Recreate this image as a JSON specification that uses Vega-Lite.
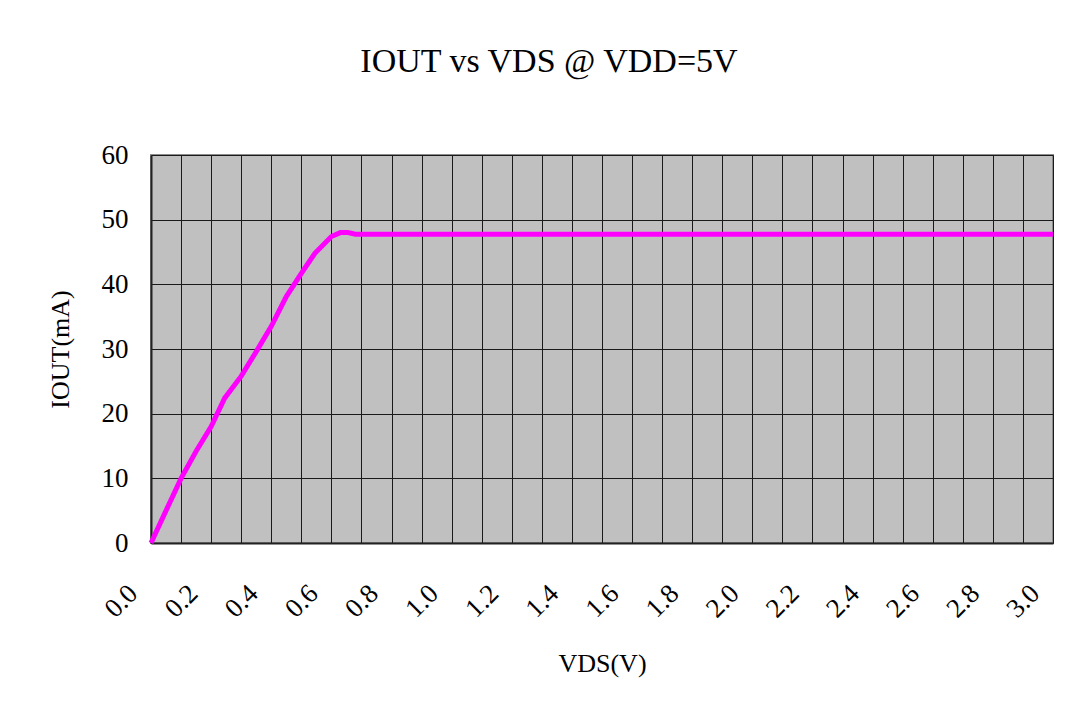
{
  "$schema": "https://vega.github.io/schema/vega-lite/v6.json",
  "width": 902,
  "height": 388,
  "autosize": {"type": "none"},
  "padding": {"left": 151, "top": 155, "right": 30, "bottom": 161},
  "background": "white",
  "title": {
    "text": "IOUT vs VDS @ VDD=5V",
    "font": "Liberation Serif",
    "fontSize": 34,
    "fontWeight": "normal",
    "color": "black",
    "anchor": "middle",
    "frame": "bounds",
    "dx": -6,
    "offset": 62
  },
  "data": {
    "values": [
      {"vds": 0.0, "iout": 0.0},
      {"vds": 0.05, "iout": 5.0},
      {"vds": 0.1, "iout": 10.0},
      {"vds": 0.15, "iout": 14.2},
      {"vds": 0.2, "iout": 18.0},
      {"vds": 0.245, "iout": 22.4},
      {"vds": 0.3, "iout": 25.8},
      {"vds": 0.35, "iout": 29.6},
      {"vds": 0.4, "iout": 33.5},
      {"vds": 0.45, "iout": 38.1},
      {"vds": 0.5, "iout": 41.7},
      {"vds": 0.545, "iout": 44.8},
      {"vds": 0.6, "iout": 47.4},
      {"vds": 0.63, "iout": 48.0},
      {"vds": 0.655, "iout": 48.0},
      {"vds": 0.68, "iout": 47.75},
      {"vds": 0.8, "iout": 47.75},
      {"vds": 1.0, "iout": 47.75},
      {"vds": 1.5, "iout": 47.75},
      {"vds": 2.0, "iout": 47.75},
      {"vds": 2.5, "iout": 47.75},
      {"vds": 3.0, "iout": 47.75}
    ]
  },
  "mark": {"type": "line", "color": "#FF00FF", "strokeWidth": 5, "clip": false},
  "encoding": {
    "x": {
      "field": "vds",
      "type": "quantitative",
      "scale": {"domain": [0, 3.0], "nice": false, "zero": false},
      "axis": {
        "title": "VDS(V)",
        "values": [0,0.1,0.2,0.3,0.4,0.5,0.6,0.7,0.8,0.9,1.0,1.1,1.2,1.3,1.4,1.5,1.6,1.7,1.8,1.9,2.0,2.1,2.2,2.3,2.4,2.5,2.6,2.7,2.8,2.9,3.0],
        "labelExpr": "round(datum.value*10) % 2 == 0 ? format(datum.value, '.1f') : ''",
        "labelAngle": -45,
        "labelAlign": "right",
        "labelBaseline": "middle",
        "labelFontSize": 27,
        "labelPadding": 46,
        "labelOffset": -18,
        "labelOverlap": false,
        "labelBound": false,
        "labelFlush": false,
        "ticks": false,
        "grid": true,
        "gridColor": "#1a1a1a",
        "gridWidth": 1,
        "gridOpacity": 1,
        "domainColor": "#222222",
        "domainWidth": 2,
        "titlePadding": 28
      }
    },
    "y": {
      "field": "iout",
      "type": "quantitative",
      "scale": {"domain": [0, 60], "nice": false},
      "axis": {
        "title": "IOUT(mA)",
        "values": [0, 10, 20, 30, 40, 50, 60],
        "ticks": false,
        "labelPadding": 23,
        "labelFontSize": 27,
        "grid": true,
        "gridColor": "#1a1a1a",
        "gridWidth": 1,
        "gridOpacity": 1,
        "domainColor": "#222222",
        "domainWidth": 2,
        "titlePadding": 28
      }
    }
  },
  "config": {
    "view": {"fill": "#C0C0C0", "stroke": "#8c8c8c", "strokeWidth": 2},
    "axis": {
      "labelFont": "Liberation Serif",
      "labelFontSize": 26,
      "labelColor": "black",
      "titleFont": "Liberation Serif",
      "titleFontSize": 26,
      "titleFontWeight": "normal",
      "titleColor": "black"
    }
  }
}
